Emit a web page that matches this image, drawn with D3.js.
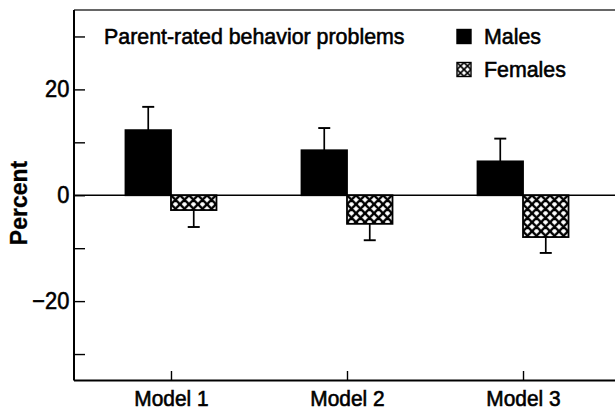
<!DOCTYPE html>
<html>
<head>
<meta charset="utf-8">
<script src="https://cdn.jsdelivr.net/npm/d3@7"></script>
<style>
  html, body { margin: 0; padding: 0; background: #fff; }
  svg { display: block; font-family: "Liberation Sans", Arial, Helvetica, sans-serif; }
  svg text { fill: #000; stroke: #000; stroke-width: 0.6px; }
</style>
</head>
<body>
<svg id="chart" width="615" height="411"></svg>
<script>
// Percent change in parent-rated behavior problems, by model and sex
const models = ["Model 1", "Model 2", "Model 3"];
const groups = ["Males", "Females"];
const malesValue = [12.3, 8.5, 6.4];
const malesUpper = [16.7, 12.7, 10.7];
const femalesValue = [-2.8, -5.4, -7.9];
const femalesLower = [-6.0, -8.5, -10.9];
const yTicks = [-30, -20, -10, 0, 10, 20, 30];
const yLabelled = [-20, 0, 20];
const titleText = "Parent-rated behavior problems";
const yTitle = "Percent";

const rows = models.map((m, i) => ({
  model: m,
  bars: [
    { group: "Males", value: malesValue[i], err: malesUpper[i] },
    { group: "Females", value: femalesValue[i], err: femalesLower[i] }
  ]
}));

const svg = d3.select("#chart");
const plotLeft = 74, plotRight = 620, plotTop = 10, plotBottom = 380.5;
const fontSize = 23, narrow = 0.93; // tall, slightly condensed lettering

const y = d3.scaleLinear().domain([-35, 35]).range([plotBottom, plotTop]);
const x = d3.scalePoint().domain(models).range([plotLeft, plotRight]).padding(0.551);
const half = 45.5;
const xg = d3.scaleBand().domain(groups).range([-half, half]);

// cross-hatch fill
const defs = svg.append("defs");
function hatch(id, size, sw, ox, oy) {
  const p = defs.append("pattern")
    .attr("id", id)
    .attr("patternUnits", "userSpaceOnUse")
    .attr("width", size).attr("height", size)
    .attr("patternTransform", `translate(${ox},${oy})`);
  p.append("rect").attr("width", size).attr("height", size).attr("fill", "#fff");
  const s = size;
  p.append("path")
    .attr("d", `M0,0L${s},${s}M${s},0L0,${s}` +
      `M-1,${s - 1}L1,${s + 1}M${s - 1},-1L${s + 1},1` +
      `M-1,1L1,-1M${s - 1},${s + 1}L${s + 1},${s - 1}`)
    .attr("stroke", "#000").attr("stroke-width", sw).attr("fill", "none");
}
hatch("xhatch", 9, 2.3, 0, y(0));
hatch("xhatchKey", 7, 1.6, 457, 62.5);

// bars
const g = svg.append("g");
const cat = g.selectAll("g.cat").data(rows).join("g")
  .attr("class", "cat")
  .attr("transform", d => `translate(${x(d.model)},0)`);

cat.selectAll("rect").data(d => d.bars).join("rect")
  .attr("x", d => xg(d.group))
  .attr("width", xg.bandwidth())
  .attr("y", d => y(Math.max(0, d.value)))
  .attr("height", d => Math.abs(y(d.value) - y(0)))
  .attr("fill", d => d.group === "Males" ? "#000" : "url(#xhatch)")
  .attr("stroke", "#000").attr("stroke-width", 1.8);

// error bars
const eb = cat.selectAll("g.err").data(d => d.bars).join("g").attr("class", "err")
  .attr("transform", d => `translate(${xg(d.group) + xg.bandwidth() / 2},0)`);
eb.append("line")
  .attr("x1", 0).attr("x2", 0)
  .attr("y1", d => y(d.value)).attr("y2", d => y(d.err))
  .attr("stroke", "#000").attr("stroke-width", 1.7);
eb.append("line")
  .attr("x1", -6).attr("x2", 6)
  .attr("y1", d => y(d.err)).attr("y2", d => y(d.err))
  .attr("stroke", "#000").attr("stroke-width", 1.9);

// zero line
svg.append("line")
  .attr("x1", plotLeft).attr("x2", plotRight)
  .attr("y1", y(0)).attr("y2", y(0))
  .attr("stroke", "#000").attr("stroke-width", 1.6);

// frame top
svg.append("line").attr("x1", plotLeft).attr("x2", plotRight).attr("y1", plotTop).attr("y2", plotTop)
  .attr("stroke", "#333").attr("stroke-width", 1.3);

// y axis
const yAxis = d3.axisLeft(y)
  .tickValues(yTicks)
  .tickSize(-11)
  .tickPadding(5)
  .tickFormat(v => yLabelled.includes(v) ? d3.format("d")(v) : "");
const ya = svg.append("g").attr("transform", `translate(${plotLeft},0)`).call(yAxis);
ya.select(".domain").attr("stroke-width", 2).attr("d", `M0,${plotTop}V${plotBottom}`);
ya.selectAll(".tick line").attr("stroke-width", 1.4);
ya.selectAll("text").attr("font-size", fontSize + 0.5).attr("transform", `scale(${narrow},1)`);

// x axis
const xAxis = d3.axisBottom(x).tickSize(-9.5).tickPadding(10);
const xa = svg.append("g").attr("transform", `translate(0,${plotBottom})`).call(xAxis);
xa.select(".domain").attr("stroke-width", 2).attr("d", `M${plotLeft},0H${plotRight}`);
xa.selectAll(".tick line").attr("stroke-width", 1.4);
xa.selectAll("text").attr("font-size", 22).attr("transform", "scale(0.95,1)");

// the axis groups carry their own font-family; use the page font instead
svg.selectAll("g").attr("font-family", null);

// y title
svg.append("text")
  .attr("transform", "translate(27,203) rotate(-90)")
  .attr("text-anchor", "middle")
  .attr("font-size", 23).attr("font-weight", "bold")
  .style("stroke-width", "0.3px")
  .text(yTitle);

// chart title
svg.append("text")
  .attr("transform", `translate(104,44.3) scale(${narrow},1)`)
  .attr("font-size", fontSize)
  .text(titleText);

// legend
const legend = svg.append("g");
const keyY = [29.5, 62.5];
groups.forEach((grp, i) => {
  legend.append("rect")
    .attr("x", 457).attr("y", keyY[i])
    .attr("width", 14).attr("height", 14)
    .attr("fill", grp === "Males" ? "#000" : "url(#xhatchKey)")
    .attr("stroke", "#000").attr("stroke-width", 1.4);
  legend.append("text")
    .attr("transform", `translate(484,${keyY[i] + 14.3}) scale(${narrow},1)`)
    .attr("font-size", fontSize)
    .text(grp);
});
</script>
</body>
</html>
